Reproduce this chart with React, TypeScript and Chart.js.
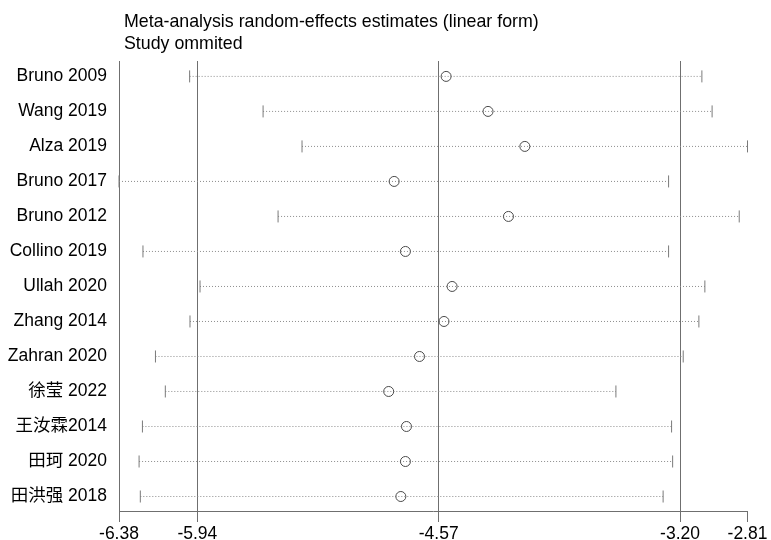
import React, { useEffect, useRef } from "react";
import { Chart, registerables } from "chart.js";

Chart.register(...registerables);

const studies = [
  "Bruno 2009",
  "Wang 2019",
  "Alza 2019",
  "Bruno 2017",
  "Bruno 2012",
  "Collino 2019",
  "Ullah 2020",
  "Zhang 2014",
  "Zahran 2020",
  "徐莹 2022",
  "王汝霖2014",
  "田珂 2020",
  "田洪强 2018",
];
const estimates = [-4.528, -4.29, -4.081, -4.823, -4.174, -4.759, -4.494, -4.54, -4.679, -4.854, -4.753, -4.759, -4.785];
const lowerCI = [-5.984, -5.567, -5.346, -6.385, -5.482, -6.249, -5.925, -5.982, -6.178, -6.122, -6.252, -6.271, -6.264];
const upperCI = [-3.076, -3.018, -2.817, -3.265, -2.864, -3.265, -3.059, -3.093, -3.182, -3.564, -3.248, -3.242, -3.296];
const xTickValues = [-6.385, -5.94, -4.57, -3.2, -2.817];
const xTickLabels = ["-6.38", "-5.94", "-4.57", "-3.20", "-2.81"];
const titleLines = ["Meta-analysis random-effects estimates (linear form)", "Study ommited"];

const FONT = "'Liberation Sans', Arial, 'Noto Sans CJK SC', sans-serif";
const AXIS_COLOR = "#6f6f6f";

export default function App() {
  const ref = useRef<HTMLCanvasElement | null>(null);

  useEffect(() => {
    if (!ref.current) return;

    const lineSets = studies.map((s, i) => ({
      type: "line" as const,
      label: s,
      data: [
        { x: lowerCI[i], y: i + 1 },
        { x: upperCI[i], y: i + 1 },
      ],
      borderColor: "#8c8c8c",
      borderWidth: 1,
      borderDash: [1, 2],
      pointRadius: 0,
      fill: false,
      clip: false,
      order: 3,
    }));

    const capData: { x: number; y: number }[] = [];
    studies.forEach((_, i) => {
      capData.push({ x: lowerCI[i], y: i + 1 });
      capData.push({ x: upperCI[i], y: i + 1 });
    });

    const titlePlugin = {
      id: "stataTitle",
      afterDraw(chart: any) {
        const ctx = chart.ctx;
        ctx.save();
        ctx.fillStyle = "#000";
        ctx.font = `17.8px ${FONT}`;
        ctx.textBaseline = "alphabetic";
        ctx.textAlign = "left";
        ctx.fillText(titleLines[0], 124, 27);
        ctx.fillText(titleLines[1], 124, 49);
        ctx.restore();
      },
    };

    const chart = new Chart(ref.current, {
      type: "scatter",
      data: {
        datasets: [
          ...lineSets,
          {
            type: "scatter" as const,
            label: "caps",
            data: capData,
            pointStyle: "line",
            rotation: 90,
            pointRadius: 6,
            borderColor: "#7a7a7a",
            borderWidth: 1,
            clip: false,
            order: 2,
          } as any,
          {
            type: "scatter" as const,
            label: "estimate",
            data: estimates.map((v, i) => ({ x: v, y: i + 1 })),
            pointStyle: "circle",
            pointRadius: 5,
            backgroundColor: "transparent",
            borderColor: "#4a4a4a",
            borderWidth: 1,
            clip: false,
            order: 1,
          } as any,
        ],
      },
      options: {
        responsive: false,
        animation: false,
        layout: { padding: { top: 61, right: 23.5, left: 0, bottom: 0 } },
        plugins: {
          legend: { display: false },
          tooltip: { enabled: false },
          title: { display: false },
        },
        scales: {
          x: {
            type: "linear",
            position: "bottom",
            min: xTickValues[0],
            max: xTickValues[xTickValues.length - 1],
            afterBuildTicks: (scale: any) => {
              scale.ticks = xTickValues.map((v) => ({ value: v }));
            },
            afterFit: (scale: any) => {
              scale.height = 29;
            },
            ticks: {
              callback: (_v: any, idx: number) => xTickLabels[idx],
              font: { family: FONT, size: 17.5 },
              color: "#000",
              padding: 2,
              maxRotation: 0,
              autoSkip: false,
            },
            grid: {
              color: (ctx: any) => {
                const i = ctx.index;
                return i >= 1 && i <= 3 ? AXIS_COLOR : "rgba(0,0,0,0)";
              },
              tickColor: AXIS_COLOR,
              tickLength: 11,
              drawTicks: true,
              lineWidth: 1,
            },
            border: { display: true, color: AXIS_COLOR, width: 1 },
          },
          y: {
            type: "linear",
            reverse: true,
            min: 0.56,
            max: 13.414,
            afterBuildTicks: (scale: any) => {
              scale.ticks = studies.map((_, i) => ({ value: i + 1 }));
            },
            afterFit: (scale: any) => {
              scale.width = 119;
            },
            ticks: {
              callback: (v: any) => studies[Math.round(Number(v)) - 1] ?? "",
              font: { family: FONT, size: 17.5 },
              color: "#000",
              padding: 12,
              autoSkip: false,
            },
            grid: { display: false, drawTicks: false },
            border: { display: true, color: AXIS_COLOR, width: 1 },
          },
        },
      } as any,
      plugins: [titlePlugin],
    });

    return () => chart.destroy();
  }, []);

  return (
    <div style={{ position: "fixed", left: 0, top: 0, width: 771, height: 540, background: "#fff" }}>
      <canvas ref={ref} width={771} height={540} style={{ width: 771, height: 540, display: "block" }} />
    </div>
  );
}
